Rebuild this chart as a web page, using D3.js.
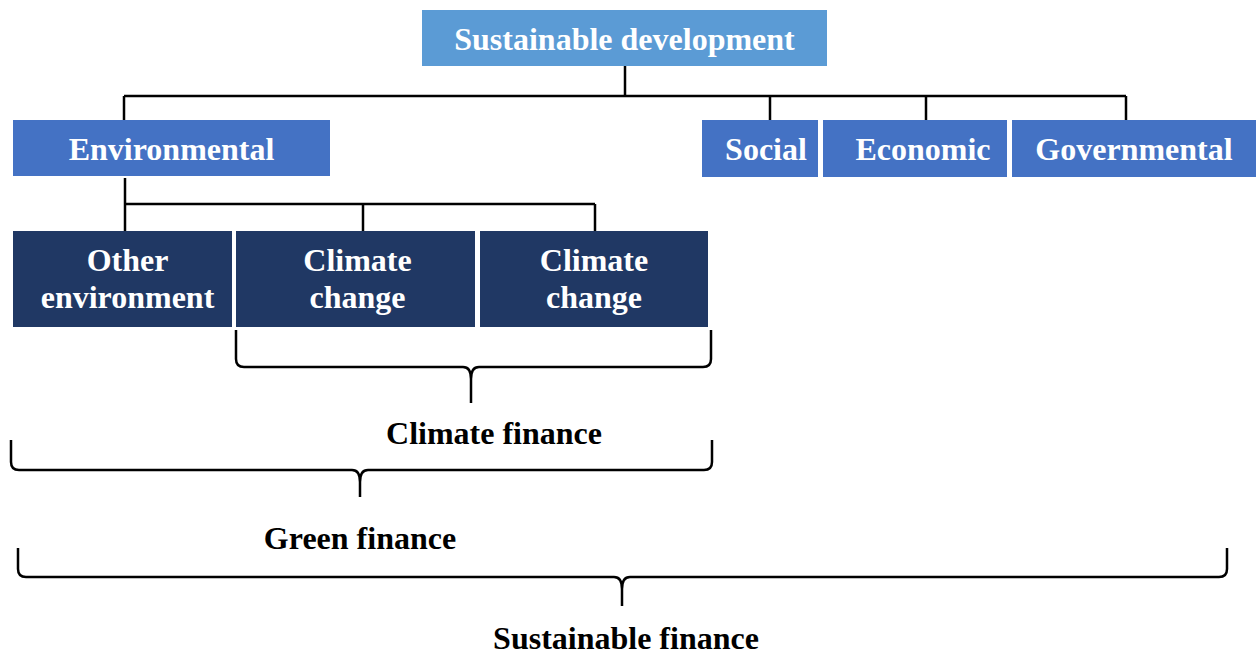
<!DOCTYPE html>
<html lang="en">
<head>
<meta charset="utf-8">
<title>Sustainable finance</title>
<script src="https://d3js.org/d3.v7.min.js"></script>
<style>
  body { margin: 0; background: #fff; }
  .box text { font-family: "Liberation Serif", "Times New Roman", serif; font-weight: bold; font-size: 32px; fill: #fff; }
  .label { font-family: "Liberation Serif", "Times New Roman", serif; font-weight: bold; font-size: 32px; fill: #000; }
  .links path, .braces path { fill: none; stroke: #000; stroke-width: 2.5px; }
</style>
</head>
<body>
<div id="chart"></div>
<script>
// tree levels
var topNode = ["Sustainable development"];
var pillars = ["Environmental", "Social", "Economic", "Governmental"];
var envParts = [["Other", "environment"], ["Climate", "change"], ["Climate", "change"]];
// brace labels, narrowest first
var braceLabels = ["Climate finance", "Green finance", "Sustainable finance"];

// layout (pixels)
var width = 1256, height = 657;
var topBox = {x: 422, y: 10, w: 405, h: 56, dx: 0, dy: 1};
var pillarBoxes = [
  {x: 13, y: 120, w: 317, h: 56, dx: 0, dy: 1},
  {x: 702, y: 120, w: 116, h: 57, dx: 6, dy: 0},
  {x: 823, y: 120, w: 184, h: 57, dx: 8, dy: 0},
  {x: 1012, y: 120, w: 244, h: 57, dx: 0, dy: 0}
];
var pillarDrops = [124, 770, 926, 1126];
var partBoxes = [
  {x: 13, y: 231, w: 219, h: 96, dx: 5, dy: -1},
  {x: 236, y: 231, w: 239, h: 96, dx: 2, dy: -1},
  {x: 480, y: 231, w: 228, h: 96, dx: 0, dy: -1}
];
var partDrops = [125, 363, 595];
var braces = [
  {x0: 236, x1: 711, top: 330, mid: 367, cx: 471, tip: 403, lx: 494, ly: 433},
  {x0: 11, x1: 712, top: 440, mid: 470, cx: 360, tip: 497, lx: 360, ly: 538},
  {x0: 18, x1: 1227, top: 548, mid: 577, cx: 622, tip: 606, lx: 626, ly: 638}
];
var colors = ["#5b9bd5", "#4472c4", "#203864"];

var svg = d3.select("#chart").append("svg")
    .attr("width", width)
    .attr("height", height);

// connectors
var links = svg.append("g").attr("class", "links");
var bus1 = 96;
links.append("path").attr("d", "M625," + (topBox.y + topBox.h) + "V" + bus1);
links.append("path").attr("d", "M" + d3.min(pillarDrops) + "," + bus1 + "H" + d3.max(pillarDrops));
pillarDrops.forEach(function(x, i) {
  links.append("path").attr("d", "M" + x + "," + bus1 + "V" + pillarBoxes[i].y);
});
var bus2 = 204;
links.append("path").attr("d", "M" + partDrops[0] + "," + (pillarBoxes[0].y + pillarBoxes[0].h + 2) + "V" + partBoxes[0].y);
links.append("path").attr("d", "M" + partDrops[0] + "," + bus2 + "H" + d3.max(partDrops));
partDrops.slice(1).forEach(function(x, i) {
  links.append("path").attr("d", "M" + x + "," + bus2 + "V" + partBoxes[i + 1].y);
});

function drawBoxes(boxes, lines, fill, cls) {
  var g = svg.append("g").attr("class", "box " + cls)
    .selectAll("g")
    .data(boxes)
    .enter().append("g");
  g.append("rect")
    .attr("x", function(d) { return d.x; })
    .attr("y", function(d) { return d.y; })
    .attr("width", function(d) { return d.w; })
    .attr("height", function(d) { return d.h; })
    .attr("fill", fill);
  g.each(function(d, i) {
    var rows = [].concat(lines[i]);
    var t = d3.select(this).append("text")
      .attr("text-anchor", "middle");
    var cy = d.y + d.h / 2 + d.dy;
    var lh = 37;
    rows.forEach(function(r, k) {
      t.append("tspan")
        .attr("x", d.x + d.w / 2 + d.dx)
        .attr("y", cy + (k - (rows.length - 1) / 2) * lh)
        .attr("dy", "0.35em")
        .text(r);
    });
  });
}

drawBoxes([topBox], topNode, colors[0], "top");
drawBoxes(pillarBoxes, pillars, colors[1], "pillars");
drawBoxes(partBoxes, envParts, colors[2], "parts");

// braces
function bracePath(b) {
  var r = 8, p = d3.path();
  p.moveTo(b.x0, b.top);
  p.lineTo(b.x0, b.mid - r);
  p.quadraticCurveTo(b.x0, b.mid, b.x0 + r, b.mid);
  p.lineTo(b.cx - r, b.mid);
  p.quadraticCurveTo(b.cx, b.mid, b.cx, b.mid + r * 1.5);
  p.lineTo(b.cx, b.tip);
  p.moveTo(b.cx, b.mid + r * 1.5);
  p.quadraticCurveTo(b.cx, b.mid, b.cx + r, b.mid);
  p.lineTo(b.x1 - r, b.mid);
  p.quadraticCurveTo(b.x1, b.mid, b.x1, b.mid - r);
  p.lineTo(b.x1, b.top);
  return p.toString();
}

svg.append("g").attr("class", "braces")
  .selectAll("path")
  .data(braces)
  .enter().append("path")
  .attr("d", bracePath);

svg.append("g")
  .selectAll("text")
  .data(braceLabels)
  .enter().append("text")
  .attr("class", "label")
  .attr("text-anchor", "middle")
  .attr("x", function(d, i) { return braces[i].lx; })
  .attr("y", function(d, i) { return braces[i].ly; })
  .attr("dy", "0.35em")
  .text(function(d) { return d; });
</script>
</body>
</html>
